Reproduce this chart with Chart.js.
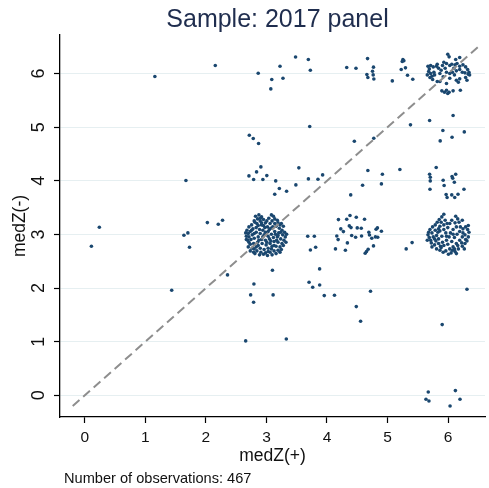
<!DOCTYPE html>
<html>
<head>
<meta charset="utf-8">
<script src="https://cdn.jsdelivr.net/npm/chart.js@4.4.1/dist/chart.umd.min.js"></script>
<style>
  html, body { margin: 0; padding: 0; background: #ffffff; }
  #c { display: block; }
</style>
</head>
<body>
<canvas id="c" width="489" height="488"></canvas>
<script>
// ---------------- DATA ----------------
const chartTitle = 'Sample: 2017 panel';
const xTitle = 'medZ(+)';
const yTitle = 'medZ(-)';
const noteText = 'Number of observations: 467';
const xTicks = [0, 1, 2, 3, 4, 5, 6];
const yTicks = [0, 1, 2, 3, 4, 5, 6];
const diagonalEnds = [-0.2, 6.55];

// scattered points near medZ(-) = 6
const scatterTop = [
  [1.157,5.946],[2.155,6.151],[2.864,6.007],[3.088,5.890],[3.072,5.715],[3.224,6.138],
  [3.273,5.914],[3.481,6.310],[3.692,6.263],[3.725,6.063],[4.326,6.113],[4.479,6.100],
  [4.670,6.280],[4.768,6.120],[4.752,6.045],[4.659,5.983],[4.763,5.976],[4.675,5.927],
  [4.774,5.900],[5.079,5.864],[5.254,6.263],[5.243,6.226],[5.270,6.240],[5.226,6.077],
  [5.296,6.107],[5.330,5.970],[5.417,5.896]
];
// cluster around (6, 6)
const clusterHigh = [
  [5.668,6.138],[5.712,6.150],[5.755,6.125],[5.690,6.088],[5.821,6.175],[5.843,6.101],
  [5.908,6.150],[5.930,6.213],[5.974,6.188],[6.028,6.150],[6.061,6.175],[6.115,6.163],
  [6.148,6.188],[6.192,6.138],[6.246,6.163],[6.290,6.125],[6.323,6.076],[6.345,6.026],
  [5.679,6.038],[5.712,6.001],[5.766,6.026],[5.865,6.001],[5.974,6.026],[6.028,6.001],
  [6.072,6.026],[6.137,6.051],[6.192,6.076],[6.279,6.014],[6.334,5.989],[6.355,5.976],
  [5.701,5.926],[5.745,5.889],[5.821,5.852],[5.777,5.976],[5.919,5.939],[6.028,5.914],
  [6.137,5.877],[6.192,5.902],[6.290,5.926],[6.312,5.877],[5.865,5.852],[5.974,5.815],
  [5.897,5.678],[5.941,5.653],[5.974,5.690],[5.995,5.628],[6.017,5.653],[6.083,5.678],
  [6.203,5.690],[6.170,5.839],[5.995,6.362],[6.017,6.312],[6.126,6.262],[6.192,6.300],
  [5.657,5.976],[5.734,5.951],[6.105,5.976],[6.235,6.026],[5.810,6.138],[5.952,6.101],
  [6.094,6.101],[5.886,6.063]
];
// scattered points near medZ(-) = 4 and 5
const scatterMid = [
  [1.670,4.005],[2.717,4.851],[2.782,4.789],[2.870,4.696],[3.715,5.013],[2.711,4.092],
  [2.788,4.024],[2.837,4.167],[2.908,4.260],[2.941,4.024],[3.006,4.098],[3.153,3.999],
  [3.213,3.856],[3.137,3.750],[3.333,3.806],[3.486,3.924],[3.535,4.242],[3.693,4.036],
  [3.851,4.030],[3.928,4.111],[4.392,3.738],[4.452,4.739],[4.588,3.918],[4.675,4.192],
  [4.773,4.795],[4.899,3.943],[4.915,4.124],[5.204,4.210],[5.379,5.044],[5.695,5.125],
  [5.914,4.938],[5.870,4.745],[6.066,4.814],[6.083,5.218],[6.268,4.913],[5.695,4.124],
  [5.706,4.068],[5.706,3.999],[5.701,3.843],[5.804,4.248],[5.919,4.011],[5.935,3.912],
  [5.968,3.744],[5.984,3.688],[6.061,3.738],[6.110,3.688],[6.164,3.750],[6.066,4.080],
  [6.077,4.049],[6.126,4.124],[6.104,3.974],[6.263,3.843]
];
// scattered points on the left
const scatterLeft = [
  [0.240,3.134],[0.109,2.780],[1.637,2.985],[1.702,3.029],[1.729,2.761],[2.024,3.221],
  [2.204,3.190],[2.275,3.265],[2.357,2.245]
];
// cluster around (3, 3)
const clusterLow = [
  [2.820,3.340],[2.875,3.365],[2.919,3.327],[2.853,3.290],[2.798,3.253],[2.897,3.253],
  [2.951,3.278],[2.984,3.216],[3.039,3.303],[3.082,3.365],[3.115,3.340],[3.137,3.290],
  [3.093,3.253],[3.180,3.265],[3.191,3.216],[3.246,3.203],[3.279,3.153],[3.060,3.203],
  [3.017,3.141],[2.919,3.178],[2.842,3.203],[2.755,3.178],[2.711,3.141],[2.678,3.079],
  [2.657,3.029],[2.700,3.017],[2.733,3.054],[2.777,3.104],[2.831,3.128],[2.886,3.091],
  [2.940,3.079],[2.984,3.041],[3.049,3.091],[3.104,3.141],[3.159,3.153],[3.213,3.116],
  [3.257,3.079],[3.300,3.041],[3.333,3.004],[3.311,2.954],[3.268,2.992],[3.202,3.029],
  [3.137,3.054],[3.082,3.004],[3.028,2.967],[2.962,2.992],[2.897,3.017],[2.831,3.041],
  [2.766,2.992],[2.711,2.954],[2.668,2.967],[2.689,2.892],[2.744,2.905],[2.798,2.929],
  [2.864,2.954],[2.919,2.905],[2.984,2.892],[3.049,2.917],[3.115,2.942],[3.180,2.954],
  [3.235,2.917],[3.289,2.892],[3.322,2.855],[3.257,2.830],[3.191,2.855],[3.126,2.867],
  [3.060,2.830],[2.995,2.805],[2.929,2.830],[2.853,2.855],[2.788,2.830],[2.733,2.818],
  [2.700,2.768],[2.766,2.743],[2.831,2.768],[2.897,2.743],[2.962,2.718],[3.028,2.743],
  [3.093,2.780],[3.159,2.780],[3.224,2.768],[3.279,2.793],[3.191,2.706],[3.126,2.693],
  [3.060,2.668],[2.984,2.656],[2.908,2.668],[2.842,2.693],[2.809,2.643],[2.886,2.619],
  [2.951,2.631],[3.017,2.606],[3.093,2.619],[3.159,2.643],[3.224,2.668],[2.711,2.855],
  [2.755,3.079],[2.864,3.166],[2.973,3.128],[3.137,3.203],[3.235,3.041],[2.809,3.228],
  [2.940,2.954],[3.028,3.054],[3.148,3.004],[2.864,2.793],[3.082,2.730],[3.246,2.718],
  [2.798,2.730],[2.919,3.216],[3.006,3.253],[3.071,2.880],[3.169,2.892],[2.668,2.905],
  [2.733,2.693],[2.788,2.668],[2.951,3.166],[3.071,3.116],[3.191,2.979],[3.006,2.855],
  [2.875,2.892],[2.798,3.017],[3.126,2.793],[3.028,2.681],[2.897,3.303],[3.224,3.178]
];
// group around (4.5, 3)
const clusterMid = [
  [3.682,2.966],[3.791,2.966],[3.726,2.711],[3.813,2.761],[3.878,2.357],[4.189,3.277],
  [4.326,3.283],[4.380,3.352],[4.484,3.321],[4.620,3.283],[4.228,3.103],[4.271,3.053],
  [4.369,3.159],[4.397,3.128],[4.500,3.122],[4.566,3.116],[4.162,2.972],[4.184,2.904],
  [4.408,2.979],[4.473,2.948],[4.571,2.972],[4.691,3.041],[4.702,2.991],[4.740,2.929],
  [4.800,2.954],[4.838,2.948],[4.811,3.097],[4.833,3.122],[4.899,3.060],[4.140,2.730],
  [4.304,2.705],[4.337,2.842],[4.768,2.786],[4.631,2.649],[4.653,2.680],[4.680,2.724],
  [5.308,2.730],[5.406,2.848]
];
// cluster around (6, 3)
const clusterRight = [
  [5.930,3.377],[5.897,3.327],[5.854,3.278],[5.821,3.228],[5.886,3.228],[5.952,3.265],
  [5.930,3.178],[5.865,3.153],[5.788,3.178],[5.744,3.141],[5.701,3.091],[5.679,3.041],
  [5.668,2.992],[5.690,2.942],[5.657,2.892],[5.712,2.892],[5.755,2.954],[5.734,3.029],
  [5.788,3.079],[5.832,3.041],[5.810,2.979],[5.777,2.917],[5.843,2.917],[5.897,2.967],
  [5.865,3.066],[5.930,3.091],[5.963,3.029],[5.995,3.128],[6.028,3.203],[6.061,3.265],
  [6.126,3.340],[6.159,3.290],[6.115,3.216],[6.181,3.228],[6.235,3.265],[6.137,3.141],
  [6.083,3.091],[6.039,3.029],[6.017,2.954],[5.974,2.892],[5.908,2.855],[5.843,2.830],
  [5.777,2.805],[5.734,2.768],[5.810,2.730],[5.886,2.755],[5.930,2.793],[5.995,2.818],
  [6.061,2.867],[6.105,2.942],[6.148,3.004],[6.192,3.054],[6.246,3.104],[6.290,3.141],
  [6.323,3.091],[6.345,3.041],[6.279,2.992],[6.235,2.954],[6.192,2.892],[6.137,2.830],
  [6.083,2.768],[6.028,2.730],[5.963,2.693],[6.050,2.656],[6.115,2.681],[6.170,2.730],
  [6.235,2.780],[6.279,2.830],[6.312,2.880],[6.334,2.954],[6.290,2.905],[6.225,2.842],
  [6.159,2.793],[6.105,2.730],[6.072,2.706],[6.006,2.631],[5.919,2.668],[5.865,2.706],
  [5.799,2.880],[5.723,2.842],[5.843,3.104],[5.974,2.967],[6.083,3.004],[6.246,3.029],
  [6.203,3.141],[5.984,3.203],[5.875,2.780],[6.137,2.643],[6.334,3.166],[6.268,2.730]
];
// scattered points below medZ(-) = 2.5
const scatterLow = [
  [1.435,1.959],[3.099,2.332],[2.793,2.077],[2.739,1.872],[2.788,1.735],[3.110,1.872],
  [2.657,1.014],[3.328,1.051],[3.704,2.108],[3.764,2.015],[3.879,2.058],[3.955,1.859],
  [4.124,1.866],[4.484,1.654],[4.555,1.380],[4.719,1.940],[5.903,1.318],[6.312,1.978],
  [5.673,0.062],[5.635,-0.075],[5.684,-0.106],[6.121,0.087],[6.197,-0.075],[6.033,-0.199]
];

// ---------------- CHART ----------------
const FONT = "'Liberation Sans', Arial, Helvetica, sans-serif";
const allPoints = [].concat(scatterTop, clusterHigh, scatterMid, scatterLeft,
  clusterLow, clusterMid, clusterRight, scatterLow).map(([x, y]) => ({ x, y }));

const textPlugin = {
  id: 'textPlugin',
  afterDraw(chart) {
    const ctx = chart.ctx;
    ctx.save();
    ctx.fillStyle = '#1f2d4e';
    ctx.font = `25px ${FONT}`;
    ctx.textAlign = 'center';
    ctx.textBaseline = 'alphabetic';
    ctx.fillText(chartTitle, 277.5, 27);
    ctx.fillStyle = '#111111';
    ctx.font = `14.6px ${FONT}`;
    ctx.textAlign = 'left';
    ctx.fillText(noteText, 64, 483);
    ctx.restore();
  }
};

new Chart(document.getElementById('c'), {
  type: 'scatter',
  data: {
    datasets: [
      {
        data: diagonalEnds.map(v => ({ x: v, y: v })),
        showLine: true,
        borderColor: '#8e8e8e',
        borderWidth: 2,
        borderDash: [9, 5],
        pointRadius: 0,
        order: 0
      },
      {
        data: allPoints,
        backgroundColor: '#1a476f',
        borderWidth: 0,
        pointRadius: 1.8,
        order: 1
      }
    ]
  },
  options: {
    responsive: false,
    animation: false,
    events: [],
    layout: { padding: { top: 35, left: 0, right: 0, bottom: 21 } },
    plugins: { legend: { display: false }, tooltip: { enabled: false }, title: { display: false } },
    scales: {
      x: {
        type: 'linear',
        min: -0.41,
        max: 6.61,
        afterBuildTicks: s => { s.ticks = xTicks.map(v => ({ value: v })); },
        afterFit: s => { s.height = 50; },
        grid: { drawOnChartArea: false, tickLength: 6, tickColor: '#000', tickWidth: 1.2 },
        border: { color: '#000', width: 1.3 },
        ticks: { font: { family: FONT, size: 15.5 }, color: '#111', padding: 5, maxRotation: 0, minRotation: 0 },
        title: { display: true, text: xTitle, color: '#111', font: { family: FONT, size: 17.5 }, padding: { top: 0, bottom: 0 } }
      },
      y: {
        type: 'linear',
        min: -0.405,
        max: 6.72,
        afterBuildTicks: s => { s.ticks = yTicks.map(v => ({ value: v })); },
        afterFit: s => { s.width = 60; },
        grid: { color: '#e6eff1', lineWidth: 1, tickLength: 6, tickColor: '#000', tickWidth: 1.2 },
        border: { color: '#000', width: 1.3 },
        ticks: { font: { family: FONT, size: 18 }, color: '#111', padding: 10, minRotation: 90, maxRotation: 90, crossAlign: 'center' },
        title: { display: true, text: yTitle, color: '#111', font: { family: FONT, size: 17.5 }, padding: { top: 10, bottom: 0 } }
      }
    }
  },
  plugins: [textPlugin]
});
</script>
</body>
</html>
